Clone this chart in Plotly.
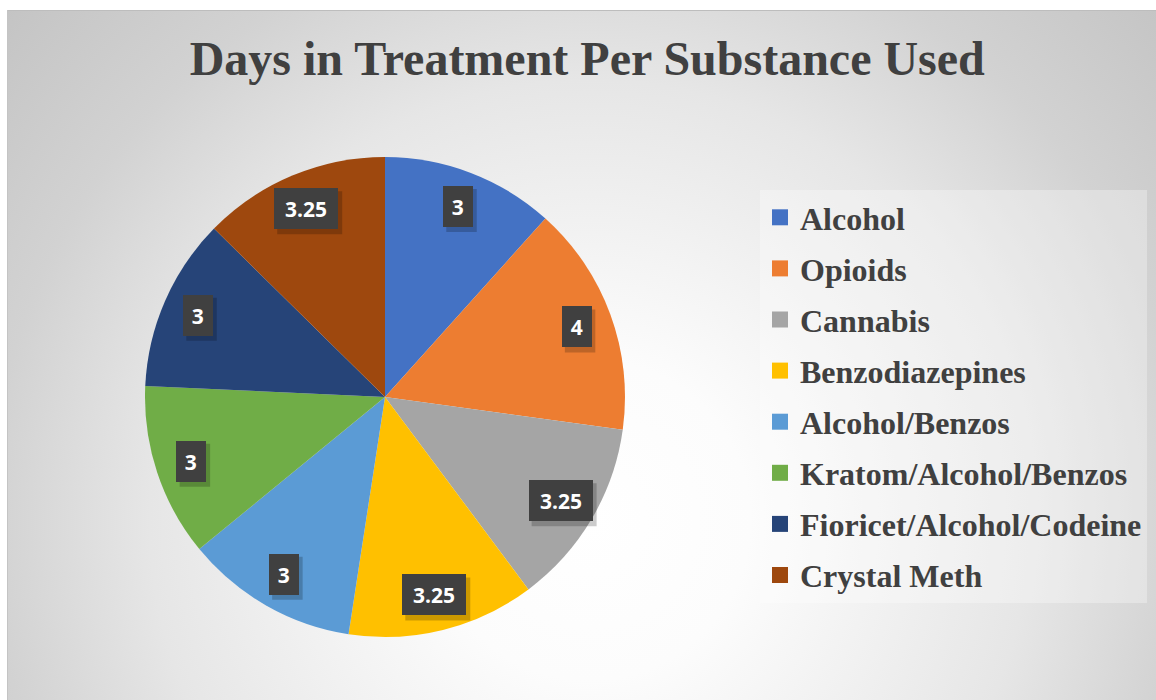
import math
import base64
import plotly.graph_objects as go

# ---------------- data ----------------
categories = ["Alcohol", "Opioids", "Cannabis", "Benzodiazepines", "Alcohol/Benzos",
              "Kratom/Alcohol/Benzos", "Fioricet/Alcohol/Codeine", "Crystal Meth"]
days = [3, 4, 3.25, 3.25, 3, 3, 3, 3.25]
colors = ["#4472C4", "#ED7D31", "#A5A5A5", "#FFC000", "#5B9BD5", "#70AD47", "#264478", "#9E480E"]
title_text = "Days in Treatment Per Substance Used"

# ---------------- layout constants ----------------
W, H = 1156, 700
PIE_CX, PIE_CY, PIE_R = 385, 397, 240
LABEL_FRAC = 0.85
SERIF = "Liberation Serif, Times New Roman, serif"
TEXT_COL = "#404040"

# background (radial gradient chart area) as an SVG data URI
svg = f"""<svg xmlns='http://www.w3.org/2000/svg' width='{W}' height='{H}' viewBox='0 0 {W} {H}'>
<defs><radialGradient id='g' gradientUnits='userSpaceOnUse' cx='590' cy='520' r='800'>
<stop offset='0' stop-color='#ffffff'/><stop offset='0.2' stop-color='#fcfcfc'/>
<stop offset='0.55' stop-color='#e6e6e6'/><stop offset='0.75' stop-color='#d2d2d2'/>
<stop offset='1' stop-color='#c2c2c2'/></radialGradient></defs>
<rect width='{W}' height='{H}' fill='#ffffff'/>
<rect x='7' y='10' width='{W-7}' height='{H-10}' fill='url(#g)'/>
<line x1='7' y1='10.5' x2='{W}' y2='10.5' stroke='#bdbdbd' stroke-width='1'/>
<line x1='7.5' y1='10' x2='7.5' y2='{H}' stroke='#c4c4c4' stroke-width='1'/>
</svg>"""
bg_uri = "data:image/svg+xml;base64," + base64.b64encode(svg.encode()).decode()

fig = go.Figure()

fig.add_trace(go.Pie(
    labels=categories, values=days, sort=False, direction="clockwise", rotation=0,
    marker=dict(colors=colors, line=dict(width=0)),
    textinfo="none", hoverinfo="label+value", showlegend=False,
    domain=dict(x=[(PIE_CX - PIE_R) / W, (PIE_CX + PIE_R) / W],
                y=[1 - (PIE_CY + PIE_R) / H, 1 - (PIE_CY - PIE_R) / H]),
))

# legend entries (square swatches) as empty traces, each in its own group for spacing
for cat, col in zip(categories, colors):
    fig.add_trace(go.Scatter(
        x=[None], y=[None], mode="markers", name=cat, legendgroup=cat,
        marker=dict(symbol="square", size=16, color=col), hoverinfo="skip"))

# data labels in dark boxes (with soft drop shadow)
total = sum(days)
cum = 0.0
annotations = []
shapes = []
BOX_H = 41
for v in days:
    theta = 2 * math.pi * (cum + v / 2) / total
    cum += v
    px = PIE_CX + LABEL_FRAC * PIE_R * math.sin(theta)
    py = PIE_CY - LABEL_FRAC * PIE_R * math.cos(theta)
    s = f"{v:g}"
    bw = 18 + 11.5 * len(s)
    xa, ya = px / W, 1 - py / H
    shapes.append(dict(type="rect", xref="paper", yref="paper",
                       xsizemode="pixel", ysizemode="pixel", xanchor=xa, yanchor=ya,
                       x0=-bw / 2 + 3, x1=bw / 2 + 4, y0=-BOX_H / 2 - 5, y1=BOX_H / 2 - 3,
                       fillcolor="rgba(0,0,0,0.20)", line=dict(width=0), layer="above"))
    annotations.append(dict(text=s, x=xa, y=ya, xref="paper", yref="paper", showarrow=False,
                            width=bw, height=BOX_H, borderpad=0, borderwidth=0,
                            xanchor="center", yanchor="middle", bgcolor="#404040",
                            font=dict(color="#ffffff", size=21, weight="bold",
                                      family="Open Sans, sans-serif")))

fig.update_layout(
    width=W, height=H,
    margin=dict(l=0, r=0, t=0, b=0),
    paper_bgcolor="#ffffff", plot_bgcolor="rgba(0,0,0,0)",
    xaxis=dict(visible=False), yaxis=dict(visible=False),
    title=dict(text=title_text, x=0.508, xanchor="center", y=1 - 58 / H, yanchor="middle",
               font=dict(family=SERIF, size=48, color=TEXT_COL, weight="bold")),
    legend=dict(x=760 / W, xanchor="left", y=1 - 190 / H, yanchor="top",
                bgcolor="rgba(255,255,255,0.3)", borderwidth=0,
                tracegroupgap=6.5, traceorder="grouped",
                font=dict(family=SERIF, size=32, color=TEXT_COL, weight="bold")),
    images=[dict(source=bg_uri, xref="paper", yref="paper", x=0, y=1, sizex=1, sizey=1,
                 xanchor="left", yanchor="top", sizing="stretch", layer="below")],
    shapes=shapes,
    annotations=annotations,
    showlegend=True,
)

fig.write_html("out.html")
